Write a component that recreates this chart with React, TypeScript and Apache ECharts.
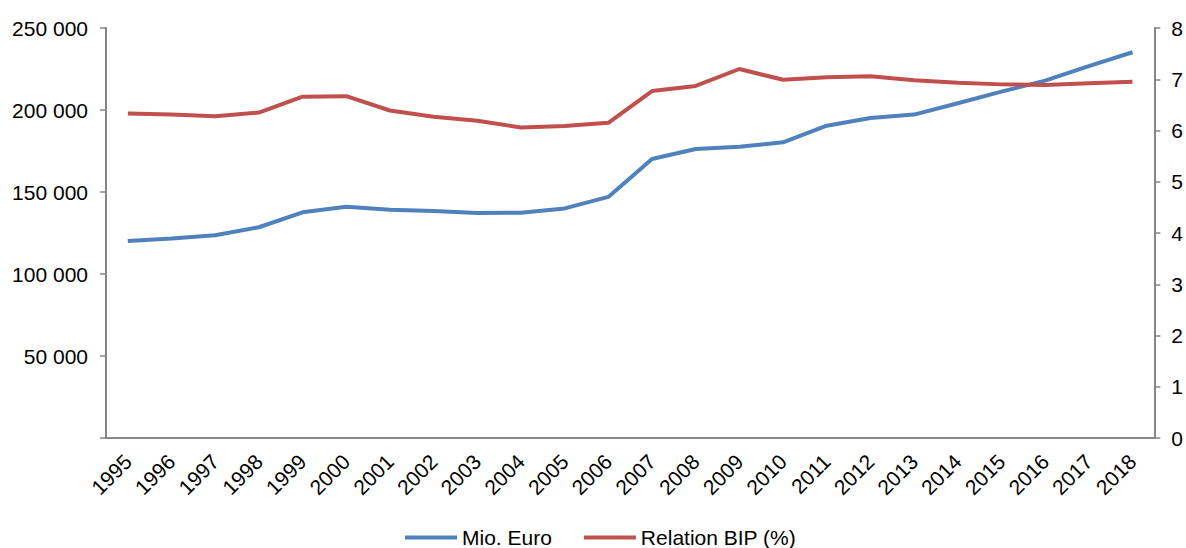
import React, { useEffect, useRef } from "react";
import * as echarts from "echarts";

const years = ["1995","1996","1997","1998","1999","2000","2001","2002","2003","2004","2005","2006","2007","2008","2009","2010","2011","2012","2013","2014","2015","2016","2017","2018"];
const mioEuro = [120100, 121700, 123600, 128500, 137600, 141000, 139200, 138400, 137200, 137400, 140000, 147000, 170100, 176200, 177600, 180300, 190400, 195100, 197200, 204100, 211200, 217900, 226800, 235200];
const relationBip = [6.33, 6.31, 6.28, 6.35, 6.66, 6.67, 6.39, 6.27, 6.19, 6.06, 6.09, 6.15, 6.77, 6.87, 7.2, 6.99, 7.04, 7.06, 6.98, 6.93, 6.9, 6.89, 6.92, 6.95];
const seriesNames = ["Mio. Euro", "Relation BIP (%)"];

const FONT = "'Liberation Sans', Arial, sans-serif";
const AXIS_COLOR = "#868686";

export default function App() {
  const ref = useRef<HTMLDivElement>(null);
  useEffect(() => {
    document.body.style.margin = "0";
    const chart = echarts.init(ref.current!, null, { renderer: "svg" });
    chart.setOption({
      animation: false,
      textStyle: { fontFamily: FONT },
      grid: { left: 106, right: 30, top: 28, bottom: 110, containLabel: false },
      legend: {
        left: 400,
        top: 522,
        itemWidth: 52,
        itemHeight: 4,
        itemGap: 32,
        icon: "rect",
        textStyle: { fontSize: 21, color: "#000", fontFamily: FONT },
        data: seriesNames,
      },
      xAxis: {
        type: "category",
        data: years,
        boundaryGap: true,
        axisLine: { lineStyle: { color: AXIS_COLOR, width: 2 } },
        axisTick: { alignWithLabel: false, length: 6, lineStyle: { color: AXIS_COLOR, width: 1.5 } },
        axisLabel: { rotate: 45, fontSize: 21, color: "#000", margin: 20, fontFamily: FONT, interval: 0 },
      },
      yAxis: [
        {
          type: "value",
          min: 0,
          max: 250000,
          interval: 50000,
          position: "left",
          splitLine: { show: false },
          axisLine: { show: true, lineStyle: { color: AXIS_COLOR, width: 2 } },
          axisTick: { show: true, length: 6, lineStyle: { color: AXIS_COLOR, width: 1.5 } },
          axisLabel: {
            fontSize: 21,
            color: "#000",
            margin: 18,
            fontFamily: FONT,
            formatter: (v: number) =>
              v === 0 ? "" : String(v).replace(/\B(?=(\d{3})+(?!\d))/g, " "),
          },
        },
        {
          type: "value",
          min: 0,
          max: 8,
          interval: 1,
          position: "right",
          splitLine: { show: false },
          axisLine: { show: true, lineStyle: { color: AXIS_COLOR, width: 2 } },
          axisTick: { show: true, length: 6, lineStyle: { color: AXIS_COLOR, width: 1.5 } },
          axisLabel: { fontSize: 21, color: "#000", margin: 17, fontFamily: FONT },
        },
      ],
      series: [
        {
          name: seriesNames[0],
          type: "line",
          yAxisIndex: 0,
          data: mioEuro,
          showSymbol: false,
          symbol: "none",
          lineStyle: { color: "#4F81BD", width: 4 },
          itemStyle: { color: "#4F81BD" },
        },
        {
          name: seriesNames[1],
          type: "line",
          yAxisIndex: 1,
          data: relationBip,
          showSymbol: false,
          symbol: "none",
          lineStyle: { color: "#C0504D", width: 4 },
          itemStyle: { color: "#C0504D" },
        },
      ],
    });
    return () => chart.dispose();
  }, []);
  return <div ref={ref} style={{ width: 1186, height: 548 }} />;
}
